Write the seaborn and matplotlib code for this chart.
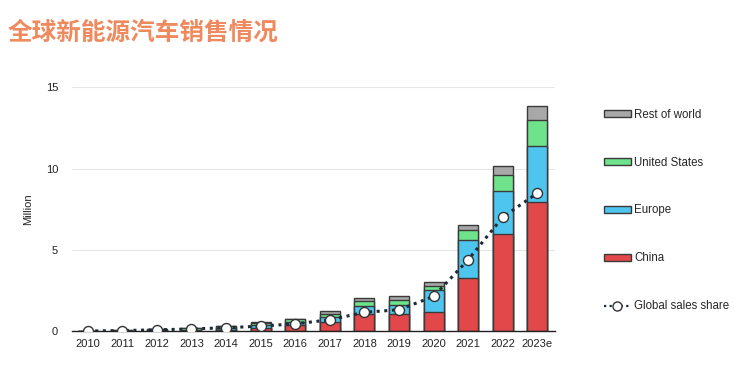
import numpy as np
import pandas as pd
import seaborn as sns
import matplotlib
matplotlib.use("Agg")
import matplotlib.pyplot as plt
from matplotlib.patches import Patch
from matplotlib.lines import Line2D

years = ["2010", "2011", "2012", "2013", "2014", "2015", "2016", "2017",
         "2018", "2019", "2020", "2021", "2022", "2023e"]
china = [0.005, 0.01, 0.015, 0.02, 0.07, 0.20, 0.34, 0.55, 1.02, 1.06, 1.16, 3.25, 5.95, 7.94]
europe = [0.003, 0.01, 0.03, 0.07, 0.10, 0.19, 0.21, 0.30, 0.49, 0.57, 1.34, 2.33, 2.66, 3.43]
united_states = [0.002, 0.02, 0.05, 0.10, 0.12, 0.11, 0.16, 0.20, 0.33, 0.29, 0.30, 0.61, 1.01, 1.60]
rest_of_world = [0.001, 0.01, 0.025, 0.01, 0.03, 0.06, 0.04, 0.16, 0.21, 0.21, 0.19, 0.33, 0.53, 0.88]
global_share = [0.0, 0.03, 0.07, 0.13, 0.20, 0.30, 0.44, 0.69, 1.15, 1.31, 2.13, 4.39, 7.01, 8.49]

series_names = ["China", "Europe", "United States", "Rest of world"]
series_colors = ["#E2474A", "#4EC5EE", "#6FE28C", "#A8A8A8"]
edge = "#3a3a3a"

df = pd.DataFrame({"year": years, "China": china, "Europe": europe,
                   "United States": united_states, "Rest of world": rest_of_world,
                   "share": global_share})
cum = df[series_names].cumsum(axis=1)

sns.set_theme(style="white")
plt.rcParams["font.family"] = ["Liberation Sans", "DejaVu Sans"]

fig = plt.figure(figsize=(7.37, 3.66), dpi=100)
ax = fig.add_axes([0.0977, 0.0956, 0.655, 0.666])

for name, color in reversed(list(zip(series_names, series_colors))):
    sns.barplot(x=df["year"], y=cum[name], color=color, width=0.58,
                edgecolor=edge, linewidth=1.0, ax=ax, saturation=1, errorbar=None)

sns.pointplot(x=df["year"], y=df["share"], color="#1d2a3a", markers="o",
              linestyles=(0, (1, 1.5)), ax=ax, errorbar=None,
              linewidth=2.2, markersize=7.2)
for ln in ax.lines:
    ln.set_markerfacecolor("white")
    ln.set_markeredgecolor("#333333")
    ln.set_markeredgewidth(1.0)
    ln.set_zorder(5)

ax.set_ylim(0, 15)
ax.set_xlim(-0.45, 13.5)
ax.set_yticks([0, 5, 10, 15])
ax.yaxis.grid(True, color="#e6e6e6", linewidth=0.8)
ax.set_axisbelow(True)
for s in ["top", "right", "left"]:
    ax.spines[s].set_visible(False)
ax.spines["bottom"].set_color("#222222")
ax.spines["bottom"].set_linewidth(1.0)
ax.tick_params(axis="both", labelsize=8, colors="#222222", length=0, pad=6)
ax.tick_params(axis="y", pad=10)
ax.set_xlabel("")
ax.set_ylabel("Million", fontsize=8, color="#222222", labelpad=9)

handles = [Patch(facecolor=c, edgecolor=edge, linewidth=1.0) for c in reversed(series_colors)]
labels = list(reversed(series_names))
handles.append(Line2D([0], [0], color="#1d2a3a", linestyle=(0, (1, 1.5)), linewidth=1.6,
                      marker="o", markerfacecolor="white", markeredgecolor="#333333",
                      markersize=6.5))
labels.append("Global sales share")
fig.legend(handles, labels, loc="upper left", bbox_to_anchor=(0.8135, 0.716),
           frameon=False, fontsize=8.3, handlelength=2.3, handleheight=0.6,
           handletextpad=0.3, labelspacing=3.12, borderaxespad=0)

fig.text(0.011, 0.912, "全球新能源汽车销售情况", fontsize=17.7, fontweight="bold",
         color="#EE8A5E", family=["Noto Sans CJK SC", "DejaVu Sans"], va="center")

fig.savefig("out.png", dpi=100)
